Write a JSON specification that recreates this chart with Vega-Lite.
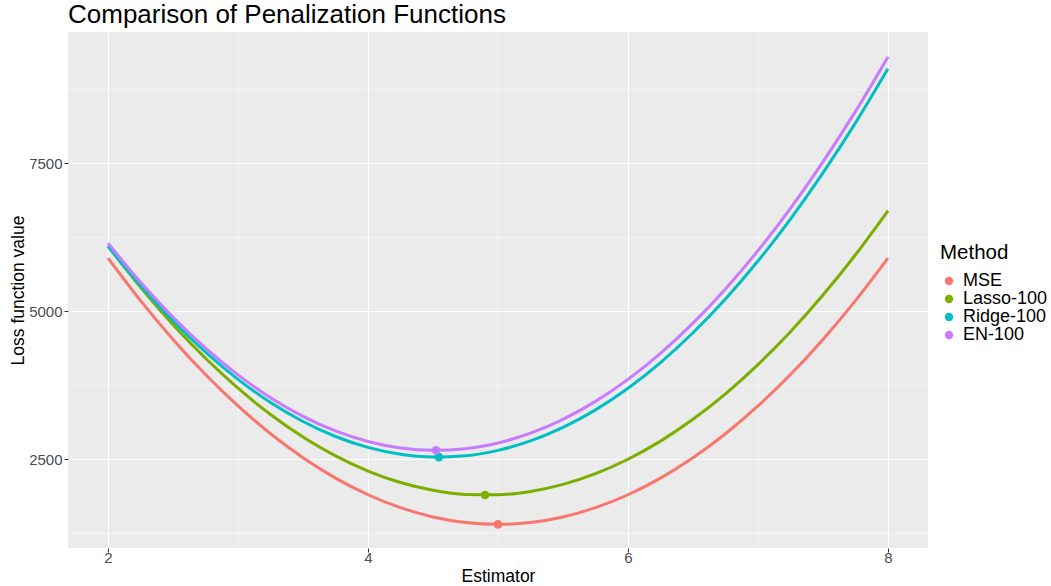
{
  "$schema": "https://vega.github.io/schema/vega-lite/v6.json",
  "autosize": {"type": "none"},
  "padding": {"left": 68, "top": 32, "right": 123, "bottom": 38},
  "width": 860,
  "height": 516,
  "background": "white",
  "title": {
    "text": "Comparison of Penalization Functions",
    "anchor": "start",
    "frame": "group",
    "font": "Liberation Sans",
    "fontSize": 26,
    "fontWeight": "normal",
    "color": "black",
    "offset": 4
  },
  "config": {
    "view": {"fill": "#EBEBEB", "stroke": null},
    "font": "Liberation Sans",
    "axis": {
      "domain": false,
      "grid": true,
      "gridColor": "white",
      "gridWidth": 1.1,
      "gridOpacity": 1,
      "tickColor": "#333333",
      "tickSize": 4,
      "tickWidth": 1,
      "labelFont": "Liberation Sans",
      "labelFontSize": 15,
      "labelColor": "#4D4D4D",
      "titleFont": "Liberation Sans",
      "titleFontSize": 17.5,
      "titleFontWeight": "normal",
      "titleColor": "black"
    },
    "legend": {
      "titleFont": "Liberation Sans",
      "labelFont": "Liberation Sans"
    }
  },
  "resolve": {"axis": {"x": "independent", "y": "independent"}},
  "datasets": {
    "curves": [
      {"x": 2, "Method": "MSE", "loss": 5900}, {"x": 2.25, "Method": "MSE", "loss": 5181}, {"x": 2.5, "Method": "MSE", "loss": 4525}, {"x": 2.75, "Method": "MSE", "loss": 3931}, {"x": 3, "Method": "MSE", "loss": 3400}, {"x": 3.25, "Method": "MSE", "loss": 2931}, {"x": 3.5, "Method": "MSE", "loss": 2525}, {"x": 3.75, "Method": "MSE", "loss": 2181}, {"x": 4, "Method": "MSE", "loss": 1900}, {"x": 4.25, "Method": "MSE", "loss": 1681}, {"x": 4.5, "Method": "MSE", "loss": 1525}, {"x": 4.75, "Method": "MSE", "loss": 1431}, {"x": 5, "Method": "MSE", "loss": 1400}, {"x": 5.25, "Method": "MSE", "loss": 1431}, {"x": 5.5, "Method": "MSE", "loss": 1525}, {"x": 5.75, "Method": "MSE", "loss": 1681}, {"x": 6, "Method": "MSE", "loss": 1900}, {"x": 6.25, "Method": "MSE", "loss": 2181}, {"x": 6.5, "Method": "MSE", "loss": 2525}, {"x": 6.75, "Method": "MSE", "loss": 2931}, {"x": 7, "Method": "MSE", "loss": 3400}, {"x": 7.25, "Method": "MSE", "loss": 3931}, {"x": 7.5, "Method": "MSE", "loss": 4525}, {"x": 7.75, "Method": "MSE", "loss": 5181}, {"x": 8, "Method": "MSE", "loss": 5900},
      {"x": 2, "Method": "Lasso-100", "loss": 6100}, {"x": 2.25, "Method": "Lasso-100", "loss": 5406}, {"x": 2.5, "Method": "Lasso-100", "loss": 4775}, {"x": 2.75, "Method": "Lasso-100", "loss": 4206}, {"x": 3, "Method": "Lasso-100", "loss": 3700}, {"x": 3.25, "Method": "Lasso-100", "loss": 3256}, {"x": 3.5, "Method": "Lasso-100", "loss": 2875}, {"x": 3.75, "Method": "Lasso-100", "loss": 2556}, {"x": 4, "Method": "Lasso-100", "loss": 2300}, {"x": 4.25, "Method": "Lasso-100", "loss": 2106}, {"x": 4.5, "Method": "Lasso-100", "loss": 1975}, {"x": 4.75, "Method": "Lasso-100", "loss": 1906}, {"x": 5, "Method": "Lasso-100", "loss": 1900}, {"x": 5.25, "Method": "Lasso-100", "loss": 1956}, {"x": 5.5, "Method": "Lasso-100", "loss": 2075}, {"x": 5.75, "Method": "Lasso-100", "loss": 2256}, {"x": 6, "Method": "Lasso-100", "loss": 2500}, {"x": 6.25, "Method": "Lasso-100", "loss": 2806}, {"x": 6.5, "Method": "Lasso-100", "loss": 3175}, {"x": 6.75, "Method": "Lasso-100", "loss": 3606}, {"x": 7, "Method": "Lasso-100", "loss": 4100}, {"x": 7.25, "Method": "Lasso-100", "loss": 4656}, {"x": 7.5, "Method": "Lasso-100", "loss": 5275}, {"x": 7.75, "Method": "Lasso-100", "loss": 5956}, {"x": 8, "Method": "Lasso-100", "loss": 6700},
      {"x": 2, "Method": "Ridge-100", "loss": 6100}, {"x": 2.25, "Method": "Ridge-100", "loss": 5434}, {"x": 2.5, "Method": "Ridge-100", "loss": 4838}, {"x": 2.75, "Method": "Ridge-100", "loss": 4309}, {"x": 3, "Method": "Ridge-100", "loss": 3850}, {"x": 3.25, "Method": "Ridge-100", "loss": 3459}, {"x": 3.5, "Method": "Ridge-100", "loss": 3138}, {"x": 3.75, "Method": "Ridge-100", "loss": 2884}, {"x": 4, "Method": "Ridge-100", "loss": 2700}, {"x": 4.25, "Method": "Ridge-100", "loss": 2584}, {"x": 4.5, "Method": "Ridge-100", "loss": 2538}, {"x": 4.75, "Method": "Ridge-100", "loss": 2559}, {"x": 5, "Method": "Ridge-100", "loss": 2650}, {"x": 5.25, "Method": "Ridge-100", "loss": 2809}, {"x": 5.5, "Method": "Ridge-100", "loss": 3038}, {"x": 5.75, "Method": "Ridge-100", "loss": 3334}, {"x": 6, "Method": "Ridge-100", "loss": 3700}, {"x": 6.25, "Method": "Ridge-100", "loss": 4134}, {"x": 6.5, "Method": "Ridge-100", "loss": 4638}, {"x": 6.75, "Method": "Ridge-100", "loss": 5209}, {"x": 7, "Method": "Ridge-100", "loss": 5850}, {"x": 7.25, "Method": "Ridge-100", "loss": 6559}, {"x": 7.5, "Method": "Ridge-100", "loss": 7338}, {"x": 7.75, "Method": "Ridge-100", "loss": 8184}, {"x": 8, "Method": "Ridge-100", "loss": 9100},
      {"x": 2, "Method": "EN-100", "loss": 6150}, {"x": 2.25, "Method": "EN-100", "loss": 5490}, {"x": 2.5, "Method": "EN-100", "loss": 4900}, {"x": 2.75, "Method": "EN-100", "loss": 4378}, {"x": 3, "Method": "EN-100", "loss": 3925}, {"x": 3.25, "Method": "EN-100", "loss": 3540}, {"x": 3.5, "Method": "EN-100", "loss": 3225}, {"x": 3.75, "Method": "EN-100", "loss": 2978}, {"x": 4, "Method": "EN-100", "loss": 2800}, {"x": 4.25, "Method": "EN-100", "loss": 2690}, {"x": 4.5, "Method": "EN-100", "loss": 2650}, {"x": 4.75, "Method": "EN-100", "loss": 2678}, {"x": 5, "Method": "EN-100", "loss": 2775}, {"x": 5.25, "Method": "EN-100", "loss": 2940}, {"x": 5.5, "Method": "EN-100", "loss": 3175}, {"x": 5.75, "Method": "EN-100", "loss": 3478}, {"x": 6, "Method": "EN-100", "loss": 3850}, {"x": 6.25, "Method": "EN-100", "loss": 4290}, {"x": 6.5, "Method": "EN-100", "loss": 4800}, {"x": 6.75, "Method": "EN-100", "loss": 5378}, {"x": 7, "Method": "EN-100", "loss": 6025}, {"x": 7.25, "Method": "EN-100", "loss": 6740}, {"x": 7.5, "Method": "EN-100", "loss": 7525}, {"x": 7.75, "Method": "EN-100", "loss": 8378}, {"x": 8, "Method": "EN-100", "loss": 9300}
    ],
    "minima": [
      {"x": 5.0, "Method": "MSE", "loss": 1400},
      {"x": 4.9, "Method": "Lasso-100", "loss": 1895},
      {"x": 4.545, "Method": "Ridge-100", "loss": 2536},
      {"x": 4.523, "Method": "EN-100", "loss": 2650}
    ]
  },
  "layer": [
    {
      "data": {"values": [{"gy": 1250}, {"gy": 3750}, {"gy": 6250}, {"gy": 8750}]},
      "mark": {"type": "rule", "color": "white", "strokeWidth": 0.55},
      "encoding": {"y": {"field": "gy", "type": "quantitative", "axis": null, "scale": {"domain": [1000, 9720], "nice": false, "zero": false}}}
    },
    {
      "data": {"values": [{"gx": 3}, {"gx": 5}, {"gx": 7}]},
      "mark": {"type": "rule", "color": "white", "strokeWidth": 0.55},
      "encoding": {"x": {"field": "gx", "type": "quantitative", "axis": null, "scale": {"domain": [1.692, 8.308], "nice": false, "zero": false}}}
    },
    {
      "data": {"name": "curves"},
      "mark": {"type": "line", "strokeWidth": 3, "interpolate": "monotone", "clip": true},
      "encoding": {
        "x": {"field": "x", "type": "quantitative", "title": "Estimator", "scale": {"domain": [1.692, 8.308], "nice": false, "zero": false}, "axis": {"values": [2, 4, 6, 8], "format": "d", "grid": true, "labelPadding": -2, "titlePadding": 2, "zindex": 0}},
        "y": {"field": "loss", "type": "quantitative", "title": "Loss function value", "scale": {"domain": [1000, 9720], "nice": false, "zero": false}, "axis": {"values": [2500, 5000, 7500], "format": "d", "grid": true, "labelPadding": 2, "titlePadding": 1, "zindex": 0}},
        "color": {
          "field": "Method", "type": "nominal",
          "scale": {"domain": ["MSE", "Lasso-100", "Ridge-100", "EN-100"], "range": ["#F8766D", "#7CAE00", "#00BFC4", "#C77CFF"]},
          "legend": {
            "title": "Method",
            "orient": "none",
            "legendX": 872,
            "legendY": 210.5,
            "titleFontSize": 20.5,
            "titleFontWeight": "normal",
            "titleColor": "black",
            "titlePadding": 9,
            "labelFontSize": 18,
            "labelColor": "black",
            "labelOffset": 5,
            "symbolType": "circle",
            "symbolSize": 70,
            "rowPadding": -0.5,
            "symbolStrokeWidth": 0,
            "encode": {"symbols": {"update": {"fill": {"scale": "color", "field": "value"}, "strokeWidth": {"value": 0}}}}
          }
        },
        "order": {"field": "x", "type": "quantitative"}
      }
    },
    {
      "data": {"name": "minima"},
      "mark": {"type": "point", "filled": true, "size": 75, "opacity": 1},
      "encoding": {
        "x": {"field": "x", "type": "quantitative", "axis": null},
        "y": {"field": "loss", "type": "quantitative", "axis": null},
        "color": {"field": "Method", "type": "nominal"}
      }
    }
  ]
}
